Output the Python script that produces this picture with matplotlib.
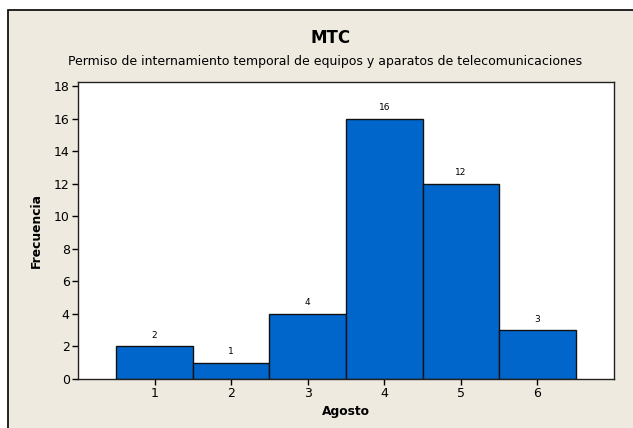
import matplotlib.pyplot as plt
from matplotlib.patches import Rectangle

# Data
bins = [1, 2, 3, 4, 5, 6]
counts = [2, 1, 4, 16, 12, 3]
yticks = [0, 2, 4, 6, 8, 10, 12, 14, 16, 18]

W, H = 633, 428
fig = plt.figure(figsize=(W / 100, H / 100), dpi=100, facecolor='white')

# Minitab-style grey panel with a black border (runs off the right and bottom)
bg = Rectangle((8 / W, -0.1), 1.1, (H - 10) / H + 0.1, transform=fig.transFigure,
               facecolor='#eeeae0', edgecolor='black', linewidth=1.2, zorder=-10)
fig.patches.append(bg)

ax = fig.add_axes([78 / W, 1 - 379 / H, (614 - 78) / W, (379 - 82) / H])
ax.set_facecolor('white')

ax.bar(bins, counts, width=1.0, color='#0066cc', edgecolor='#111111', linewidth=1.0)
for b, c in zip(bins, counts):
    ax.text(b, c + 0.4, str(c), ha='center', va='bottom', fontsize=6.5)

ax.set_xlim(0, 7)
ax.set_ylim(0, 18.25)
ax.set_xticks(bins)
ax.set_yticks(yticks)
ax.tick_params(axis='both', direction='out', length=4, width=1, labelsize=9,
               top=False, right=False, pad=2)
for s in ax.spines.values():
    s.set_linewidth(1.0)
    s.set_color('#222222')

ax.set_xlabel('Agosto', fontsize=8.8, fontweight='bold', labelpad=3)
ax.set_ylabel('Frecuencia', fontsize=8.8, fontweight='bold', labelpad=8)

fig.text(331 / W, 1 - 38 / H, 'MTC', ha='center', va='center', fontsize=12, fontweight='bold')
fig.text(325 / W, 1 - 61 / H,
         'Permiso de internamiento temporal de equipos y aparatos de telecomunicaciones',
         ha='center', va='center', fontsize=9.0)

fig.savefig('out.png', dpi=100)
